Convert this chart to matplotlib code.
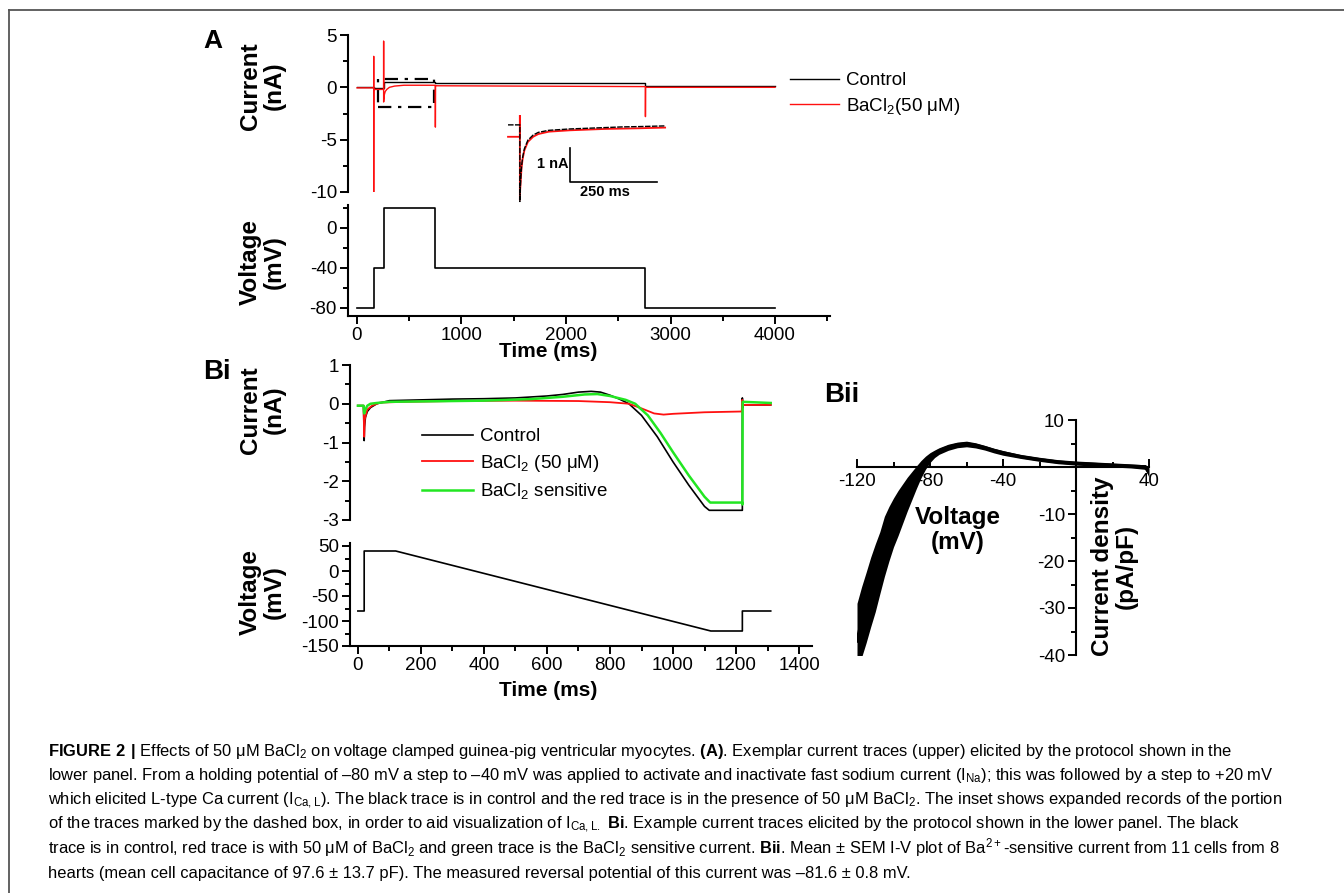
import matplotlib
matplotlib.use("Agg")
import matplotlib.pyplot as plt
from matplotlib import font_manager
from matplotlib.ticker import MultipleLocator
from matplotlib.lines import Line2D
from matplotlib.patches import Rectangle

W, H = 1344, 893

# ---- Panel A: current traces (ms, nA)
a_ctrl_t = [0, 160, 160, 255, 255, 750, 750, 2760, 2760, 4000]
a_ctrl_i = [0.05, 0.05, -0.05, -0.05, 0.5, 0.5, 0.4, 0.4, 0.1, 0.1]
a_ba_t = [0, 160, 160, 160, 161, 255, 255, 255, 258, 262, 270, 285, 310, 360, 450,
          750, 750, 751, 2760, 2760, 2761, 4000]
a_ba_i = [-0.05, -0.05, 2.95, -10.0, -0.2, -0.2, 4.4, -1.4, -1.1, -0.7, -0.4, -0.2,
          0.0, 0.12, 0.2, 0.2, -3.8, 0.15, 0.07, -2.8, 0.0, 0.0]
# ---- Panel A: voltage protocol (ms, mV)
a_prot_t = [0, 160, 160, 255, 255, 750, 750, 2760, 2760, 4000]
a_prot_v = [-80, -80, -40, -40, 20, 20, -40, -40, -80, -80]
# ---- Panel A inset (ms, nA)
ins_ctrl_t = [23, 57, 57, 58, 60, 62, 65, 70, 80, 95, 110, 140, 200, 250, 300, 350, 400, 474]
ins_ctrl_i = [0.0, 0.0, -2.25, -1.9, -1.5, -1.2, -0.95, -0.7, -0.45, -0.3, -0.22, -0.16,
              -0.12, -0.1, -0.08, -0.06, -0.05, -0.03]
ins_ba_t = [23, 57, 57, 57, 58, 60, 62, 65, 70, 80, 95, 110, 140, 200, 250, 300, 350, 400, 474]
ins_ba_i = [-0.35, -0.35, 0.9, -2.2, -1.9, -1.55, -1.25, -1.0, -0.75, -0.5, -0.35, -0.27,
            -0.2, -0.16, -0.14, -0.12, -0.11, -0.1, -0.08]

# ---- Panel Bi: ramp currents (ms, nA)
b_ctrl_t = [0, 18, 20, 21, 24, 30, 40, 60, 100, 200, 300, 400, 500, 600, 650, 700, 740,
            770, 800, 830, 860, 900, 950, 1000, 1050, 1100, 1115, 1220, 1220, 1221, 1223, 1310]
b_ctrl_i = [-0.05, -0.05, -0.95, -0.6, -0.35, -0.2, -0.1, 0.0, 0.08, 0.1, 0.12, 0.13, 0.15,
            0.2, 0.24, 0.3, 0.32, 0.3, 0.22, 0.12, 0.0, -0.3, -0.85, -1.5, -2.1, -2.65,
            -2.75, -2.75, 0.15, -0.1, -0.03, -0.03]
b_ba_t = [0, 18, 20, 22, 30, 45, 70, 150, 300, 500, 700, 800, 860, 900, 940, 970, 1000,
          1100, 1218, 1220, 1221, 1223, 1310]
b_ba_i = [-0.05, -0.05, -0.85, -0.4, -0.15, -0.05, 0.03, 0.05, 0.07, 0.08, 0.07, 0.04,
          0.0, -0.12, -0.25, -0.28, -0.26, -0.22, -0.2, 0.1, -0.05, -0.03, -0.03]
b_sens_t = [0, 18, 20, 24, 30, 40, 60, 100, 200, 400, 550, 650, 720, 760, 800, 850, 880,
            920, 960, 1000, 1050, 1100, 1118, 1220, 1220, 1221, 1310]
b_sens_i = [-0.05, -0.05, -0.25, -0.15, -0.05, 0.0, 0.02, 0.05, 0.06, 0.08, 0.12, 0.18,
            0.24, 0.25, 0.2, 0.1, 0.0, -0.3, -0.75, -1.25, -1.85, -2.4, -2.55, -2.55,
            -2.6, 0.05, 0.02]
# ---- Panel Bi: ramp protocol (ms, mV)
b_prot_t = [0, 20, 20, 120, 1120, 1220, 1220, 1310]
b_prot_v = [-80, -80, 40, 40, -120, -120, -80, -80]

# ---- Panel Bii: I-V, mean and SEM (mV, pA/pF)
iv_v = [-120, -117.5, -115, -112.5, -110, -107.5, -105, -102.5, -100, -97.5, -95, -92.5,
        -90, -87.5, -85, -82.5, -80, -77.5, -75, -70, -65, -60, -55, -50, -45, -40, -30,
        -20, -10, 0, 10, 20, 30, 38, 40]
iv_mean = [-37.0, -33.0, -29.9, -26.6, -23.6, -20.4, -16.9, -14.2, -11.8, -9.8, -7.8, -5.8,
           -4.0, -2.2, -0.5, 0.9, 2.0, 2.8, 3.4, 4.2, 4.7, 4.9, 4.6, 4.1, 3.5, 3.0, 2.2,
           1.6, 1.1, 0.8, 0.6, 0.4, 0.2, 0.0, -1.2]
iv_sem = [8.0, 7.5, 7.5, 7.4, 7.2, 6.6, 6.4, 5.8, 5.2, 4.8, 4.2, 3.6, 3.0, 2.4, 1.85, 1.4,
          1.05, 0.8, 0.7, 0.65, 0.6, 0.6, 0.55, 0.5, 0.5, 0.5, 0.4, 0.4, 0.4, 0.4, 0.4, 0.4,
          0.4, 0.5, 1.0]

caption = [
    r"$\mathbf{FIGURE\ 2\ |}$ Effects of 50 μM BaCl$_2$ on voltage clamped guinea-pig ventricular myocytes. $\mathbf{(A)}$. Exemplar current traces (upper) elicited by the protocol shown in the",
    r"lower panel. From a holding potential of –80 mV a step to –40 mV was applied to activate and inactivate fast sodium current (I$_{\mathrm{Na}}$); this was followed by a step to +20 mV",
    r"which elicited L-type Ca current (I$_{\mathrm{Ca,L}}$). The black trace is in control and the red trace is in the presence of 50 μM BaCl$_2$. The inset shows expanded records of the portion",
    r"of the traces marked by the dashed box, in order to aid visualization of I$_{\mathrm{Ca,L.}}$ $\mathbf{Bi}$. Example current traces elicited by the protocol shown in the lower panel. The black",
    r"trace is in control, red trace is with 50 μM of BaCl$_2$ and green trace is the BaCl$_2$ sensitive current. $\mathbf{Bii}$. Mean ± SEM I-V plot of Ba$^{2+}$-sensitive current from 11 cells from 8",
    r"hearts (mean cell capacitance of 97.6 ± 13.7 pF). The measured reversal potential of this current was –81.6 ± 0.8 mV.",
]

installed = {f.name for f in font_manager.fontManager.ttflist}
CAP_FONT = 'Liberation Sans Narrow' if 'Liberation Sans Narrow' in installed else 'Liberation Sans'

plt.rcParams['font.family'] = 'Liberation Sans'
plt.rcParams['axes.unicode_minus'] = False
plt.rcParams['mathtext.fontset'] = 'custom'
plt.rcParams['mathtext.rm'] = CAP_FONT
plt.rcParams['mathtext.bf'] = CAP_FONT + ':bold'
plt.rcParams['mathtext.default'] = 'regular'

RED = '#ff1010'
GREEN = '#22e622'
TICK = 13.5
LAB = 17.5


def box(x0, y0, x1, y1):
    # pixel box (top-left origin) -> figure fraction
    return [x0 / W, 1 - y1 / H, (x1 - x0) / W, (y1 - y0) / H]


def origin_style(ax, bottom=True):
    ax.spines['top'].set_visible(False)
    ax.spines['right'].set_visible(False)
    for s in ['left', 'bottom']:
        ax.spines[s].set_linewidth(1.5)
    if not bottom:
        ax.spines['bottom'].set_visible(False)
        ax.set_xticks([])
    ax.tick_params(which='major', direction='out', length=6, width=1.4, labelsize=TICK, pad=2)
    ax.tick_params(which='minor', direction='out', length=3.5, width=1.4)
    ax.patch.set_visible(False)


fig = plt.figure(figsize=(W / 100, H / 100), dpi=100)

# frame round the figure
fig.add_artist(Line2D([9 / W, 1], [1 - 10 / H] * 2, color='#555555', lw=1.3))
fig.add_artist(Line2D([9 / W] * 2, [0, 1 - 10 / H], color='#555555', lw=1.3))

# ---------------- A current
axA = fig.add_axes(box(348, 35, 830, 192))
axA.plot(a_ctrl_t, a_ctrl_i, color='k', lw=1.0)
axA.plot(a_ba_t, a_ba_i, color=RED, lw=1.0)
axA.add_patch(Rectangle((201, -1.9), 536, 2.66, fill=False, ec='k', lw=1.6,
                        ls=(0, (6, 3, 1.5, 3))))
axA.set_xlim(-86, 4526)
axA.set_ylim(-10, 5)
axA.yaxis.set_major_locator(MultipleLocator(5))
axA.yaxis.set_minor_locator(MultipleLocator(2.5))
origin_style(axA, bottom=False)
axA.legend(['Control', 'BaCl$_2$(50 μM)'], loc='upper left', frameon=False,
           bbox_to_anchor=(790 / W, 1 - 72 / H), bbox_transform=fig.transFigure,
           fontsize=13.5, handlelength=2.6, handletextpad=0.4, labelspacing=0.35,
           borderpad=0, borderaxespad=0)

# inset
axI = fig.add_axes(box(500, 115, 670, 210))
axI.plot(ins_ba_t, ins_ba_i, color=RED, lw=1.3)
axI.plot(ins_ctrl_t, ins_ctrl_i, color='k', lw=1.0, ls=(0, (4, 1)))
axI.plot([201, 201, 451], [-0.68, -1.68, -1.68], color='k', lw=1.2)
axI.text(196, -1.15, '1 nA', ha='right', va='center', fontsize=10.5, fontweight='bold')
axI.text(300, -1.98, '250 ms', ha='center', va='center', fontsize=10.5, fontweight='bold')
axI.set_xlim(0, 488)
axI.set_ylim(-2.5, 0.29)
axI.axis('off')

# ---------------- A voltage
axAv = fig.add_axes(box(348, 205, 830, 316))
axAv.plot(a_prot_t, a_prot_v, color='k', lw=1.2)
axAv.set_xlim(-86, 4526)
axAv.set_ylim(-88, 23)
axAv.yaxis.set_major_locator(MultipleLocator(40))
axAv.yaxis.set_minor_locator(MultipleLocator(20))
axAv.xaxis.set_major_locator(MultipleLocator(1000))
axAv.xaxis.set_minor_locator(MultipleLocator(500))
origin_style(axAv)

# ---------------- Bi current
axB = fig.add_axes(box(350, 365, 812, 520))
axB.plot(b_ctrl_t, b_ctrl_i, color='k', lw=1.2, label='Control')
axB.plot(b_ba_t, b_ba_i, color=RED, lw=1.3, label='BaCl$_2$ (50 μM)')
axB.plot(b_sens_t, b_sens_i, color=GREEN, lw=1.8, label='BaCl$_2$ sensitive')
axB.set_xlim(-25, 1441)
axB.set_ylim(-3, 1)
axB.yaxis.set_major_locator(MultipleLocator(1))
axB.yaxis.set_minor_locator(MultipleLocator(0.5))
origin_style(axB, bottom=False)
axB.legend(loc='upper left', frameon=False,
           bbox_to_anchor=(422 / W, 1 - 428 / H), bbox_transform=fig.transFigure,
           fontsize=13.5, handlelength=2.7, handletextpad=0.4, labelspacing=0.4,
           borderpad=0, borderaxespad=0)

# ---------------- Bi voltage
axBv = fig.add_axes(box(350, 543, 812, 646))
axBv.plot(b_prot_t, b_prot_v, color='k', lw=1.2)
axBv.set_xlim(-25, 1441)
axBv.set_ylim(-150, 56)
axBv.yaxis.set_major_locator(MultipleLocator(50))
axBv.yaxis.set_minor_locator(MultipleLocator(25))
axBv.xaxis.set_major_locator(MultipleLocator(200))
axBv.xaxis.set_minor_locator(MultipleLocator(100))
origin_style(axBv)

# ---------------- Bii I-V
axC = fig.add_axes(box(857, 420, 1149, 655))
lo = [m - s for m, s in zip(iv_mean, iv_sem)]
hi = [m + s for m, s in zip(iv_mean, iv_sem)]
axC.fill_between(iv_v, lo, hi, color='k', lw=0)
axC.plot(iv_v, iv_mean, color='k', lw=2.5)
axC.set_xlim(-120, 40)
axC.set_ylim(-40, 10)
for s in ['top', 'right']:
    axC.spines[s].set_visible(False)
axC.spines['left'].set_position(('data', 0))
axC.spines['bottom'].set_position(('data', 0))
for s in ['left', 'bottom']:
    axC.spines[s].set_linewidth(1.5)
axC.set_xticks([-120, -80, -40, 0, 40], labels=['-120', '-80', '-40', '', '40'])
axC.set_yticks([10, 0, -10, -20, -30, -40], labels=['10', '', '-10', '-20', '-30', '-40'])
axC.xaxis.set_minor_locator(MultipleLocator(20))
axC.yaxis.set_minor_locator(MultipleLocator(5))
axC.tick_params(axis='x', which='both', direction='in', width=1.4, labelsize=TICK, pad=4)
axC.tick_params(axis='x', which='major', length=6)
axC.tick_params(axis='x', which='minor', length=3.5)
axC.tick_params(axis='y', which='both', direction='out', width=1.4, labelsize=TICK, pad=2)
axC.tick_params(axis='y', which='major', length=6)
axC.tick_params(axis='y', which='minor', length=3.5)
axC.patch.set_visible(False)

# ---------------- labels
def ftext(x, y, s, **kw):
    return fig.text(x / W, 1 - y / H, s, **kw)

ftext(213, 41, 'A', fontsize=19, fontweight='bold', ha='center', va='center')
ftext(217, 372, 'Bi', fontsize=20, fontweight='bold', ha='center', va='center')
ftext(842, 395, 'Bii', fontsize=20, fontweight='bold', ha='center', va='center')

ylab = dict(fontsize=LAB, fontweight='bold', ha='center', va='center', rotation=90,
            linespacing=1.05)
ftext(262, 86, 'Current\n(nA)', **ylab)
ftext(262, 262, 'Voltage\n(mV)', **ylab)
ftext(262, 410, 'Current\n(nA)', **ylab)
ftext(262, 592, 'Voltage\n(mV)', **ylab)
ftext(1114, 566, 'Current density\n(pA/pF)', **ylab)
ftext(958, 530, 'Voltage\n(mV)', fontsize=LAB, fontweight='bold', ha='center', va='center',
      linespacing=1.1)
ftext(548, 352, 'Time (ms)', fontsize=15, fontweight='bold', ha='center', va='center')
ftext(548, 690, 'Time (ms)', fontsize=15, fontweight='bold', ha='center', va='center')

# ---------------- caption, sized so the first line spans the reference width
cap_texts = [ftext(48, 756 + k * 24.4, line, fontsize=11, family=CAP_FONT, va='baseline',
                   ha='left') for k, line in enumerate(caption)]
renderer = fig.canvas.get_renderer()
w0 = cap_texts[0].get_window_extent(renderer).width
for t in cap_texts:
    t.set_fontsize(11 * 1180 / w0)

fig.savefig('out.png', dpi=100)
